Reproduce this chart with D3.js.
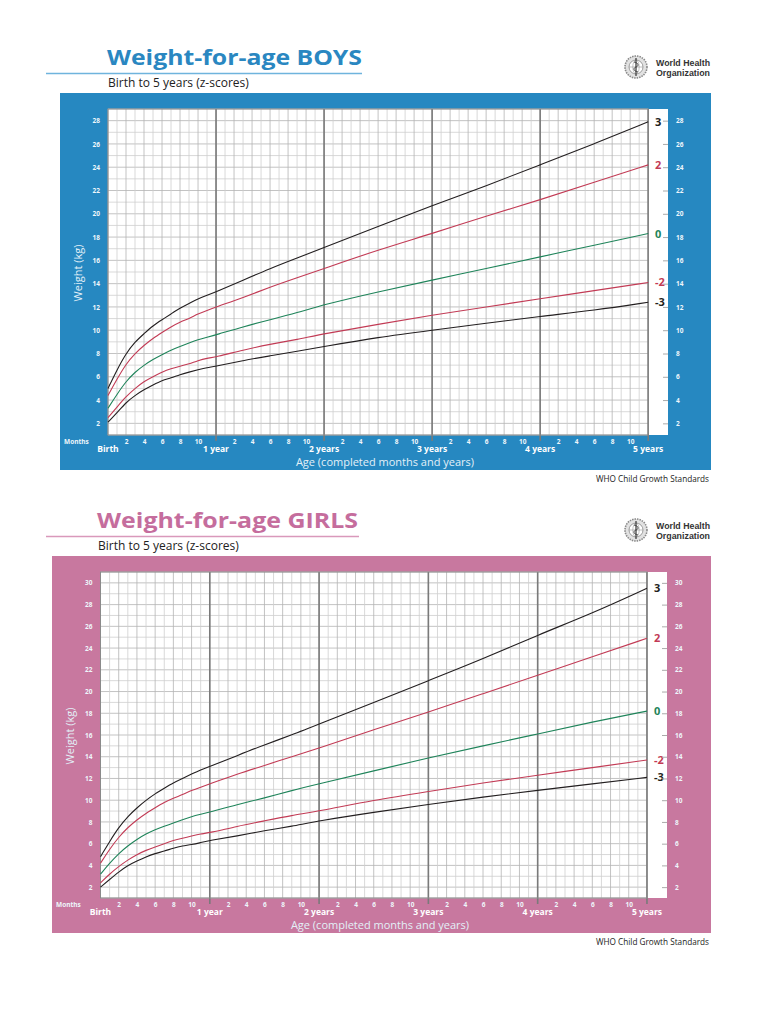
<!DOCTYPE html>
<html>
<head>
<meta charset="utf-8">
<script src="https://cdn.jsdelivr.net/npm/d3@7"></script>
<style>
body { margin: 0; background: #fff; }
text { font-family: "Open Sans", "Noto Sans", sans-serif; }
</style>
</head>
<body>
<div id="chart"></div>
<script>
// WHO weight-for-age z-score curves (kg)
var ageMonths = [0, 1, 2, 3, 4, 5, 6, 7, 8, 9, 10, 11, 12, 15, 18, 21, 24, 30, 36, 42, 48, 54, 60];

var boysSd3    = [5.0, 6.6, 8.0, 9.0, 9.7, 10.4, 10.9, 11.4, 11.9, 12.3, 12.7, 13.0, 13.3, 14.3, 15.3, 16.2, 17.1, 18.9, 20.7, 22.4, 24.2, 26.0, 27.9];
var boysSd2    = [4.4, 5.8, 7.1, 8.0, 8.7, 9.3, 9.8, 10.3, 10.7, 11.0, 11.4, 11.7, 12.0, 12.8, 13.7, 14.5, 15.3, 16.9, 18.3, 19.8, 21.2, 22.7, 24.2];
var boysSd0    = [3.3, 4.5, 5.6, 6.4, 7.0, 7.5, 7.9, 8.3, 8.6, 8.9, 9.2, 9.4, 9.6, 10.3, 10.9, 11.5, 12.2, 13.3, 14.3, 15.3, 16.3, 17.3, 18.3];
var boysSdNeg2 = [2.5, 3.4, 4.3, 5.0, 5.6, 6.0, 6.4, 6.7, 6.9, 7.1, 7.4, 7.6, 7.7, 8.3, 8.8, 9.2, 9.7, 10.5, 11.3, 12.0, 12.7, 13.4, 14.1];
var boysSdNeg3 = [2.1, 2.9, 3.8, 4.4, 4.9, 5.3, 5.7, 5.9, 6.2, 6.4, 6.6, 6.8, 6.9, 7.4, 7.8, 8.2, 8.6, 9.4, 10.0, 10.6, 11.2, 11.7, 12.4];

var girlsSd3    = [4.8, 6.2, 7.5, 8.5, 9.3, 10.0, 10.6, 11.1, 11.6, 12.0, 12.4, 12.8, 13.1, 14.1, 15.1, 16.0, 17.0, 19.0, 21.0, 23.0, 25.2, 27.2, 29.5];
var girlsSd2    = [4.2, 5.5, 6.6, 7.5, 8.2, 8.8, 9.3, 9.8, 10.2, 10.5, 10.9, 11.2, 11.5, 12.4, 13.2, 14.0, 14.8, 16.5, 18.1, 19.8, 21.5, 23.2, 24.9];
var girlsSd0    = [3.2, 4.2, 5.1, 5.8, 6.4, 6.9, 7.3, 7.6, 7.9, 8.2, 8.5, 8.7, 8.9, 9.6, 10.2, 10.9, 11.5, 12.7, 13.9, 15.0, 16.1, 17.2, 18.2];
var girlsSdNeg2 = [2.4, 3.2, 3.9, 4.5, 5.0, 5.4, 5.7, 6.0, 6.3, 6.5, 6.7, 6.9, 7.0, 7.6, 8.1, 8.6, 9.0, 10.0, 10.8, 11.6, 12.3, 13.0, 13.7];
var girlsSdNeg3 = [2.0, 2.7, 3.4, 4.0, 4.4, 4.8, 5.1, 5.3, 5.6, 5.8, 5.9, 6.1, 6.3, 6.7, 7.2, 7.6, 8.1, 8.9, 9.6, 10.3, 10.9, 11.5, 12.1];

var zLabels = ["3", "2", "0", "-2", "-3"];
var zColors = ["#231f20", "#c23b55", "#1f845a", "#c23b55", "#231f20"];
var monthTicks = [2, 4, 6, 8, 10];
var yearLabels = ["Birth", "1 year", "2 years", "3 years", "4 years", "5 years"];
var boysWeightTicks = d3.range(2, 29, 2);
var girlsWeightTicks = d3.range(2, 31, 2);

var svg = d3.select("#chart").append("svg")
    .attr("width", 768)
    .attr("height", 1024);

svg.append("rect").attr("width", 768).attr("height", 1024).attr("fill", "#fff");

function drawLogo(g, cx, cy) {
    var logo = g.append("g").attr("transform", "translate(" + cx + "," + cy + ")");
    logo.append("circle").attr("r", 11).attr("fill", "#e2e2e2").attr("stroke", "#8a8a8a").attr("stroke-width", 1.6)
        .attr("stroke-dasharray", "1.5,1");
    logo.append("circle").attr("r", 7).attr("fill", "#fff").attr("stroke", "#888").attr("stroke-width", 0.8);
    logo.append("ellipse").attr("rx", 3.2).attr("ry", 7).attr("fill", "none").attr("stroke", "#999").attr("stroke-width", 0.6);
    logo.append("line").attr("x1", -7).attr("x2", 7).attr("stroke", "#999").attr("stroke-width", 0.6);
    logo.append("line").attr("y1", -9).attr("y2", 9).attr("stroke", "#444").attr("stroke-width", 1.3);
    logo.append("path").attr("d", "M-2,-5 C3,-4 3,-1 0,0 C-3,1 -3,4 2,5")
        .attr("fill", "none").attr("stroke", "#444").attr("stroke-width", 1);
    logo.append("text").attr("x", 20).attr("y", -1.5)
        .attr("textLength", 54).attr("lengthAdjust", "spacingAndGlyphs")
        .style("font-family", "'Liberation Sans Narrow', 'Liberation Sans', sans-serif")
        .style("font-size", "9px").style("font-weight", "bold").style("fill", "#333")
        .text("World Health");
    logo.append("text").attr("x", 20).attr("y", 8.5)
        .attr("textLength", 54).attr("lengthAdjust", "spacingAndGlyphs")
        .style("font-family", "'Liberation Sans Narrow', 'Liberation Sans', sans-serif")
        .style("font-size", "9px").style("font-weight", "bold").style("fill", "#333")
        .text("Organization");
}

function drawChart(cfg) {
    var g = svg.append("g").attr("transform", "translate(0," + cfg.dy + ")");

    // header
    g.append("text")
        .attr("x", cfg.titleX).attr("y", 65)
        .attr("textLength", cfg.titleLen).attr("lengthAdjust", "spacingAndGlyphs")
        .style("font-size", "21px").style("font-weight", "bold").style("fill", cfg.titleColor)
        .text(cfg.title);
    g.append("line")
        .attr("x1", 46).attr("x2", cfg.ruleEnd).attr("y1", 73.5).attr("y2", 73.5)
        .attr("stroke", cfg.ruleColor).attr("stroke-width", 1.5);
    g.append("text")
        .attr("x", cfg.titleX + 1).attr("y", 87)
        .style("font-size", "12px").style("fill", "#222")
        .text("Birth to 5 years (z-scores)");
    drawLogo(g, 636, 67);

    // coloured panel
    g.append("rect")
        .attr("x", cfg.panelLeft).attr("y", 93)
        .attr("width", 711 - cfg.panelLeft).attr("height", 377)
        .attr("fill", cfg.panelColor);

    var x = d3.scaleLinear().domain([0, 62.2]).range([cfg.plotLeft, cfg.plotRight]);
    var y = d3.scaleLinear().domain(cfg.yDomain).range([435, 109]);
    var y0 = y.range()[0], y1 = y.range()[1];

    g.append("rect")
        .attr("x", x(0)).attr("y", y1)
        .attr("width", x(62.2) - x(0)).attr("height", y0 - y1)
        .attr("fill", "#fff");

    // grid
    var kgLines = d3.range(Math.ceil(cfg.yDomain[0]), cfg.yDomain[1] + 1);
    g.append("g").selectAll("line")
        .data(kgLines)
        .enter().append("line")
        .attr("x1", x(0)).attr("x2", x(60))
        .attr("y1", function (d) { return y(d); })
        .attr("y2", function (d) { return y(d); })
        .attr("stroke", function (d) { return d % 2 === 0 ? "#b4b4b4" : "#cfcfcf"; })
        .attr("stroke-width", 0.8);

    g.append("g").selectAll("line")
        .data(d3.range(0, 61))
        .enter().append("line")
        .attr("x1", function (d) { return x(d); })
        .attr("x2", function (d) { return x(d); })
        .attr("y1", y1).attr("y2", y0)
        .attr("stroke", function (d) { return d % 2 === 0 ? "#b4b4b4" : "#cfcfcf"; })
        .attr("stroke-width", 0.8);

    // year lines
    g.append("g").selectAll("line")
        .data([12, 24, 36, 48, 60])
        .enter().append("line")
        .attr("x1", function (d) { return x(d); })
        .attr("x2", function (d) { return x(d); })
        .attr("y1", y1).attr("y2", y0 + 6)
        .attr("stroke", "#7a7a7a")
        .attr("stroke-width", 1.6);

    // frame of the grid
    g.append("rect")
        .attr("x", x(0)).attr("y", y1)
        .attr("width", x(60) - x(0)).attr("height", y0 - y1)
        .attr("fill", "none").attr("stroke", "#8a8a8a").attr("stroke-width", 1);

    // z-score curves
    var line = d3.line()
        .x(function (d) { return x(d[0]); })
        .y(function (d) { return y(d[1]); })
        .curve(d3.curveBasis);

    cfg.series.forEach(function (s, i) {
        var pts = ageMonths.map(function (m, j) { return [m, s[j]]; });
        g.append("path")
            .attr("d", line(pts))
            .attr("fill", "none")
            .attr("stroke", zColors[i])
            .attr("stroke-width", 1.1);
        g.append("text")
            .attr("x", cfg.plotRight - 13)
            .attr("y", y(s[s.length - 1]) + 4)
            .style("font-size", "11px").style("font-weight", "bold")
            .style("fill", zColors[i])
            .text(zLabels[i]);
    });

    // weight axes
    var leftAxis = d3.axisLeft(y).tickValues(cfg.weightTicks).tickSize(0).tickPadding(8);
    var left = g.append("g").attr("transform", "translate(" + x(0) + ",0)").call(leftAxis);
    left.select(".domain").remove();
    left.selectAll("text").style("font-size", "6.5px").style("font-weight", "bold").style("fill", "#eef6fb");

    var rightAxis = d3.axisRight(y).tickValues(cfg.weightTicks).tickSizeInner(-5).tickSizeOuter(0).tickPadding(8);
    var right = g.append("g").attr("transform", "translate(" + cfg.plotRight + ",0)").call(rightAxis);
    right.select(".domain").remove();
    right.selectAll("line").attr("stroke", "#aaa");
    right.selectAll("text").style("font-size", "6.5px").style("font-weight", "bold").style("fill", "#eef6fb");

    g.append("text")
        .attr("transform", "translate(" + cfg.weightLabelX + ",273) rotate(-90)")
        .attr("text-anchor", "middle")
        .style("font-size", "11px").style("fill", "#e3f0f8")
        .text("Weight (kg)");

    // age axis
    var monthValues = [];
    d3.range(0, 5).forEach(function (yr) {
        monthTicks.forEach(function (m) { monthValues.push(yr * 12 + m); });
    });
    var bottomAxis = d3.axisBottom(x)
        .tickValues(monthValues)
        .tickFormat(function (d) { return d % 12; })
        .tickSize(0).tickPadding(4);
    var bottom = g.append("g").attr("transform", "translate(0," + y0 + ")").call(bottomAxis);
    bottom.select(".domain").remove();
    bottom.selectAll("text").style("font-size", "6.5px").style("font-weight", "bold").style("fill", "#eef6fb");

    g.append("text")
        .attr("x", cfg.panelLeft + 4).attr("y", y0 + 9)
        .style("font-size", "6.5px").style("font-weight", "bold").style("fill", "#eef6fb")
        .text("Months");

    g.append("g").selectAll("text")
        .data(yearLabels)
        .enter().append("text")
        .attr("x", function (d, i) { return x(i * 12); })
        .attr("y", y0 + 17)
        .attr("text-anchor", "middle")
        .style("font-size", "8.5px").style("font-weight", "bold").style("fill", "#fff")
        .text(function (d) { return d; });

    g.append("text")
        .attr("x", cfg.ageLabelX).attr("y", y0 + 31)
        .attr("text-anchor", "middle")
        .style("font-size", "11px").style("fill", "#e3f0f8")
        .text("Age (completed months and years)");

    g.append("text")
        .attr("x", 709).attr("y", 482)
        .attr("text-anchor", "end")
        .style("font-size", "8.2px").style("fill", "#222")
        .text("WHO Child Growth Standards");
}

drawChart({
    dy: 0,
    title: "Weight-for-age BOYS",
    titleX: 107, titleLen: 255,
    titleColor: "#2a87c1", ruleColor: "#6fb4dd", ruleEnd: 362,
    panelColor: "#2688c1", panelLeft: 60,
    plotLeft: 108, plotRight: 668,
    yDomain: [1, 29],
    weightTicks: boysWeightTicks,
    weightLabelX: 82, ageLabelX: 385,
    series: [boysSd3, boysSd2, boysSd0, boysSdNeg2, boysSdNeg3]
});

drawChart({
    dy: 463,
    title: "Weight-for-age GIRLS",
    titleX: 97, titleLen: 261,
    titleColor: "#c56d9d", ruleColor: "#d999bb", ruleEnd: 359,
    panelColor: "#c8789f", panelLeft: 52,
    plotLeft: 100.5, plotRight: 667,
    yDomain: [1, 31],
    weightTicks: girlsWeightTicks,
    weightLabelX: 74, ageLabelX: 380,
    series: [girlsSd3, girlsSd2, girlsSd0, girlsSdNeg2, girlsSdNeg3]
});
</script>
</body>
</html>
